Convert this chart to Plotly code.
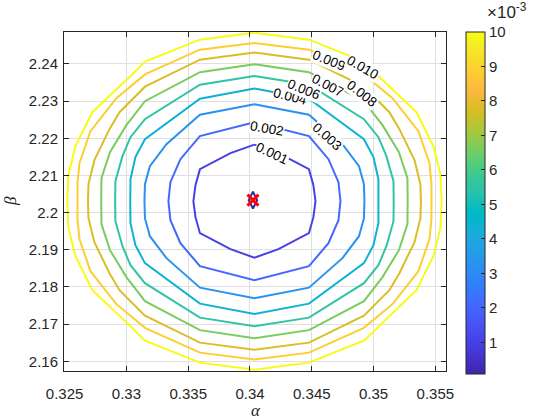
import plotly.graph_objects as go
from plotly.colors import sample_colorscale

# ---------------- data ----------------
levels = [0.001, 0.002125, 0.00325, 0.004375, 0.0055, 0.006625, 0.00775, 0.008875, 0.010]
level_labels = ["0.001", "0.002", "0.003", "0.004", "0.006", "0.007", "0.008", "0.009", "0.010"]

c1_alpha = [0.34036, 0.34230, 0.34477, 0.34513, 0.34530, 0.34513, 0.34477, 0.34230, 0.34036,
            0.33842, 0.33595, 0.33559, 0.33542, 0.33559, 0.33595, 0.33842, 0.34036]
c1_beta = [2.21829, 2.21600, 2.21170, 2.20739, 2.20309, 2.19879, 2.19448, 2.19018, 2.18789,
           2.19018, 2.19448, 2.19879, 2.20309, 2.20739, 2.21170, 2.21600, 2.21829]

c2_alpha = [0.34036, 0.34477, 0.34635, 0.34716, 0.34732, 0.34716, 0.34635, 0.34477, 0.34036,
            0.33595, 0.33437, 0.33356, 0.33340, 0.33356, 0.33437, 0.33595, 0.34036]
c2_beta = [2.22434, 2.22058, 2.21439, 2.20820, 2.20309, 2.19798, 2.19179, 2.18560, 2.18184,
           2.18560, 2.19179, 2.19798, 2.20309, 2.20820, 2.21439, 2.22058, 2.22434]

c3_alpha = [0.34036, 0.34477, 0.34748, 0.34882, 0.34922, 0.34926, 0.34922, 0.34882, 0.34748, 0.34477,
            0.34036, 0.33595, 0.33324, 0.33190, 0.33150, 0.33146, 0.33150, 0.33190, 0.33324, 0.33595, 0.34036]
c3_beta = [2.22918, 2.22636, 2.21842, 2.21251, 2.20766, 2.20309, 2.19852, 2.19367, 2.18776, 2.17982,
           2.17700, 2.17982, 2.18776, 2.19367, 2.19852, 2.20309, 2.20766, 2.21251, 2.21842, 2.22636, 2.22918]

c4_alpha = [0.34036, 0.34477, 0.34922, 0.34999, 0.35039, 0.35041, 0.35039, 0.34999, 0.34922, 0.34477,
            0.34036, 0.33595, 0.33150, 0.33073, 0.33033, 0.33031, 0.33033, 0.33073, 0.33150, 0.33595, 0.34036]
c4_beta = [2.23341, 2.23066, 2.21977, 2.21493, 2.20901, 2.20309, 2.19717, 2.19125, 2.18641, 2.17552,
           2.17277, 2.17552, 2.18641, 2.19125, 2.19717, 2.20309, 2.20901, 2.21493, 2.21977, 2.23066, 2.23341]

c5_alpha = [0.34036, 0.34477, 0.34922, 0.35039, 0.35104, 0.35161, 0.35163, 0.35161, 0.35104, 0.35039,
            0.34922, 0.34477, 0.34036, 0.33595, 0.33150, 0.33033, 0.32968, 0.32911, 0.32909, 0.32911,
            0.32968, 0.33033, 0.33150, 0.33595, 0.34036]
c5_beta = [2.23677, 2.23443, 2.22515, 2.22031, 2.21520, 2.20847, 2.20309, 2.19771, 2.19098, 2.18587,
           2.18103, 2.17175, 2.16941, 2.17175, 2.18103, 2.18587, 2.19098, 2.19771, 2.20309, 2.20847,
           2.21520, 2.22031, 2.22515, 2.23443, 2.23677]

c6_alpha = [0.34036, 0.34477, 0.34922, 0.35072, 0.35205, 0.35274, 0.35276, 0.35274, 0.35205, 0.35072,
            0.34922, 0.34477, 0.34036, 0.33595, 0.33150, 0.33000, 0.32867, 0.32798, 0.32796, 0.32798,
            0.32867, 0.33000, 0.33150, 0.33595, 0.34036]
c6_beta = [2.23994, 2.23779, 2.22999, 2.22353, 2.21627, 2.20928, 2.20309, 2.19690, 2.18991, 2.18265,
           2.17619, 2.16839, 2.16624, 2.16839, 2.17619, 2.18265, 2.18991, 2.19690, 2.20309, 2.20928,
           2.21627, 2.22353, 2.22999, 2.23779, 2.23994]

c7_alpha = [0.34036, 0.34477, 0.34922, 0.35128, 0.35209, 0.35331, 0.35379, 0.35383, 0.35379, 0.35331,
            0.35209, 0.35128, 0.34922, 0.34477, 0.34036, 0.33595, 0.33150, 0.32944, 0.32863, 0.32741,
            0.32693, 0.32689, 0.32693, 0.32741, 0.32863, 0.32944, 0.33150, 0.33595, 0.34036]
c7_beta = [2.24309, 2.24115, 2.23389, 2.22703, 2.22246, 2.21412, 2.20766, 2.20309, 2.19852, 2.19206,
           2.18372, 2.17915, 2.17229, 2.16503, 2.16309, 2.16503, 2.17229, 2.17915, 2.18372, 2.19206,
           2.19852, 2.20309, 2.20766, 2.21412, 2.22246, 2.22703, 2.23389, 2.24115, 2.24309]

c8_alpha = [0.34036, 0.34477, 0.34918, 0.35153, 0.35363, 0.35452, 0.35468, 0.35468, 0.35468, 0.35452,
            0.35363, 0.35153, 0.34918, 0.34477, 0.34036, 0.33595, 0.33154, 0.32919, 0.32709, 0.32620,
            0.32604, 0.32604, 0.32604, 0.32620, 0.32709, 0.32919, 0.33154, 0.33595, 0.34036]
c8_beta = [2.24565, 2.24384, 2.23725, 2.23080, 2.22192, 2.21331, 2.20793, 2.20309, 2.19825, 2.19287,
           2.18426, 2.17538, 2.16893, 2.16234, 2.16053, 2.16234, 2.16893, 2.17538, 2.18426, 2.19287,
           2.19825, 2.20309, 2.20793, 2.21331, 2.22192, 2.23080, 2.23725, 2.24384, 2.24565]

c9_alpha = [0.34036, 0.34477, 0.34922, 0.35023, 0.35347, 0.35484, 0.35541, 0.35551, 0.35541, 0.35484,
            0.35347, 0.35023, 0.34922, 0.34477, 0.34036, 0.33595, 0.33150, 0.33049, 0.32725, 0.32588,
            0.32531, 0.32521, 0.32531, 0.32588, 0.32725, 0.33049, 0.33150, 0.33595, 0.34036]
c9_beta = [2.24842, 2.24653, 2.24062, 2.23725, 2.22703, 2.21789, 2.21035, 2.20309, 2.19583, 2.18829,
           2.17915, 2.16893, 2.16556, 2.15965, 2.15776, 2.15965, 2.16556, 2.16893, 2.17915, 2.18829,
           2.19583, 2.20309, 2.21035, 2.21789, 2.22703, 2.23725, 2.24062, 2.24653, 2.24842]

label_alpha = [0.34180, 0.34135, 0.34621, 0.34324, 0.34437, 0.34631, 0.34904, 0.34639, 0.34914]
label_beta = [2.21592, 2.22265, 2.22039, 2.23115, 2.23322, 2.23430, 2.23206, 2.24089, 2.23914]

optimum_alpha = [0.34024]
optimum_beta = [2.20336]

x_ticks = [0.325, 0.33, 0.335, 0.34, 0.345, 0.35, 0.355]
x_ticklabels = ["0.325", "0.33", "0.335", "0.34", "0.345", "0.35", "0.355"]
y_ticks = [2.16, 2.17, 2.18, 2.19, 2.2, 2.21, 2.22, 2.23, 2.24]
y_ticklabels = ["2.16", "2.17", "2.18", "2.19", "2.2", "2.21", "2.22", "2.23", "2.24"]
cbar_ticks = [0.001, 0.002, 0.003, 0.004, 0.005, 0.006, 0.007, 0.008, 0.009, 0.010]
cbar_ticklabels = ["1", "2", "3", "4", "5", "6", "7", "8", "9", "10"]
c_min, c_max = 0.00008, 0.010
x_range = [0.32495, 0.35586]
y_range = [2.1574, 2.2486]

# ---------------- style ----------------
parula_rgb = [
    (0.2422, 0.1504, 0.6603), (0.2504, 0.1650, 0.7076), (0.2578, 0.1818, 0.7511), (0.2647, 0.1978, 0.7952),
    (0.2706, 0.2147, 0.8364), (0.2751, 0.2342, 0.8710), (0.2783, 0.2559, 0.8991), (0.2803, 0.2782, 0.9221),
    (0.2813, 0.3006, 0.9414), (0.2810, 0.3228, 0.9579), (0.2795, 0.3447, 0.9717), (0.2760, 0.3667, 0.9829),
    (0.2699, 0.3892, 0.9906), (0.2602, 0.4123, 0.9952), (0.2440, 0.4358, 0.9988), (0.2206, 0.4603, 0.9973),
    (0.1963, 0.4847, 0.9892), (0.1834, 0.5074, 0.9798), (0.1786, 0.5289, 0.9682), (0.1764, 0.5499, 0.9520),
    (0.1687, 0.5703, 0.9359), (0.1540, 0.5902, 0.9218), (0.1460, 0.6091, 0.9079), (0.1380, 0.6276, 0.8973),
    (0.1248, 0.6459, 0.8883), (0.1113, 0.6635, 0.8763), (0.0952, 0.6798, 0.8598), (0.0689, 0.6948, 0.8394),
    (0.0297, 0.7082, 0.8163), (0.0036, 0.7203, 0.7917), (0.0067, 0.7312, 0.7660), (0.0433, 0.7411, 0.7394),
    (0.0964, 0.7500, 0.7120), (0.1408, 0.7584, 0.6842), (0.1717, 0.7670, 0.6554), (0.1938, 0.7758, 0.6251),
    (0.2161, 0.7843, 0.5923), (0.2470, 0.7918, 0.5567), (0.2906, 0.7973, 0.5188), (0.3406, 0.8008, 0.4789),
    (0.3909, 0.8029, 0.4354), (0.4456, 0.8024, 0.3909), (0.5044, 0.7993, 0.3480), (0.5616, 0.7942, 0.3045),
    (0.6174, 0.7876, 0.2612), (0.6720, 0.7793, 0.2227), (0.7242, 0.7698, 0.1910), (0.7738, 0.7598, 0.1646),
    (0.8203, 0.7498, 0.1535), (0.8634, 0.7406, 0.1596), (0.9035, 0.7330, 0.1774), (0.9393, 0.7288, 0.2100),
    (0.9728, 0.7298, 0.2394), (0.9956, 0.7434, 0.2371), (0.9970, 0.7659, 0.2199), (0.9952, 0.7893, 0.2028),
    (0.9892, 0.8136, 0.1885), (0.9786, 0.8386, 0.1766), (0.9676, 0.8639, 0.1643), (0.9610, 0.8890, 0.1537),
    (0.9597, 0.9135, 0.1423), (0.9628, 0.9373, 0.1265), (0.9691, 0.9606, 0.1064), (0.9769, 0.9839, 0.0805),
]
n = len(parula_rgb)
parula = [[i / (n - 1), "rgb(%d,%d,%d)" % tuple(round(255 * c) for c in rgb)] for i, rgb in enumerate(parula_rgb)]

FONT = "Liberation Sans, Arial, Helvetica, sans-serif"
SERIF = "Liberation Serif, Times New Roman, serif"
DARK = "#262626"
label_angles = [25, 10, 42, 14, 22, 28, 38, 22, 30]

contours_alpha = [c1_alpha, c2_alpha, c3_alpha, c4_alpha, c5_alpha, c6_alpha, c7_alpha, c8_alpha, c9_alpha]
contours_beta = [c1_beta, c2_beta, c3_beta, c4_beta, c5_beta, c6_beta, c7_beta, c8_beta, c9_beta]
line_colors = sample_colorscale(parula, [(L - c_min) / (c_max - c_min) for L in levels])

fig = go.Figure()
for xa, yb, col, L in zip(contours_alpha, contours_beta, line_colors, levels):
    fig.add_trace(go.Scatter(x=xa, y=yb, mode="lines", line=dict(color=col, width=2),
                             showlegend=False, hoverinfo="skip", name=f"{L:.3f}"))

# optimum markers
fig.add_trace(go.Scatter(x=optimum_alpha, y=optimum_beta, mode="markers",
                         marker=dict(symbol="diamond-tall-open", size=12, color="#2b2bb0",
                                     line=dict(width=2, color="#2b2bb0")),
                         showlegend=False, hoverinfo="skip"))
fig.add_trace(go.Scatter(x=optimum_alpha, y=optimum_beta, mode="markers",
                         marker=dict(symbol="x-thin", size=11, color="red",
                                     line=dict(width=3, color="red")),
                         showlegend=False, hoverinfo="skip"))

# colorbar carrier
fig.add_trace(go.Scatter(
    x=[x_range[0]], y=[y_range[0]], mode="markers", showlegend=False, hoverinfo="skip",
    marker=dict(size=0.1, opacity=0, color=[c_min], cmin=c_min, cmax=c_max, colorscale=parula,
                showscale=True,
                colorbar=dict(thickness=19, thicknessmode="pixels", len=342, lenmode="pixels",
                              x=(466 - 64) / 382, xanchor="left", xpad=0, y=1.0, yanchor="top", ypad=0,
                              outlinewidth=1, outlinecolor=DARK,
                              tickvals=cbar_ticks, ticktext=cbar_ticklabels, ticks="inside", ticklen=4,
                              tickcolor=DARK, tickfont=dict(family=FONT, size=15, color=DARK)))))

for a, b, txt, ang in zip(label_alpha, label_beta, level_labels, label_angles):
    fig.add_annotation(x=a, y=b, text=txt, showarrow=False, textangle=ang, bgcolor="white",
                       borderpad=0, font=dict(family=FONT, size=13.5, color="black"))

axis_common = dict(showgrid=True, gridcolor="#dfdfdf", gridwidth=1, zeroline=False,
                   showline=True, linecolor=DARK, linewidth=1, mirror="ticks", ticks="inside",
                   ticklen=5, tickcolor=DARK, tickfont=dict(family=FONT, size=15, color=DARK))
fig.update_xaxes(range=x_range, tickvals=x_ticks, ticktext=x_ticklabels, ticklabelstandoff=9, **axis_common)
fig.update_yaxes(range=y_range, tickvals=y_ticks, ticktext=y_ticklabels, ticklabelstandoff=2, **axis_common)

# axis titles and colorbar exponent
fig.add_annotation(xref="paper", yref="paper", x=(256 - 64) / 382, y=(371 - 410) / 339, text="<i>α</i>",
                   xanchor="center", yanchor="middle", showarrow=False,
                   font=dict(family=SERIF, size=17, color=DARK))
fig.add_annotation(xref="paper", yref="paper", x=(10 - 64) / 382, y=(371 - 201) / 339, text="<i>β</i>",
                   textangle=-90, xanchor="center", yanchor="middle", showarrow=False,
                   font=dict(family=SERIF, size=17, color=DARK))
fig.add_annotation(xref="paper", yref="paper", x=(485 - 64) / 382, y=(371 - 24) / 339,
                   xanchor="left", yanchor="bottom",
                   text="×10<sup>-3</sup>", showarrow=False, font=dict(family=FONT, size=17, color=DARK))

fig.update_layout(width=560, height=420, margin=dict(l=64, r=114, t=32, b=49, pad=0),
                  plot_bgcolor="white", paper_bgcolor="white")

fig.write_html("out.html")
